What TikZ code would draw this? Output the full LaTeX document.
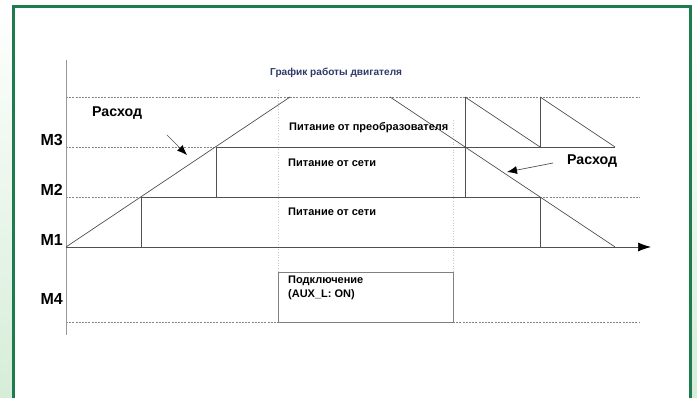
\documentclass[tikz,border=0pt]{standalone}
\usepackage{fontspec}
\setmainfont{Liberation Sans}
\usepackage{xcolor}
\usetikzlibrary{arrows.meta}

\definecolor{framegreen}{HTML}{1E7B4E}
\definecolor{paleg}{HTML}{D6EDD8}
\definecolor{titleblue}{HTML}{2B3A67}
\definecolor{linegray}{HTML}{505050}

\tikzset{
  grid/.style={draw=linegray!70, dashed, dash pattern=on 2pt off 1.2pt, line width=0.6pt},
  trace/.style={draw=linegray, line width=0.7pt},
  guide/.style={draw=gray!45, dotted, line width=0.7pt},
  mlabel/.style={font=\bfseries\fontsize{16}{16}\selectfont, anchor=east, inner sep=0pt},
  txt/.style={font=\bfseries\fontsize{11}{14}\selectfont, anchor=west, inner sep=0pt, align=left},
  flowtxt/.style={font=\bfseries\fontsize{14.2}{14}\selectfont, anchor=west, inner sep=0pt},
  pointer/.style={trace, -{Latex[length=10pt,width=8pt,fill=black,color=black]}}
}

\begin{document}
\begin{tikzpicture}[x=1pt,y=-1pt]
            \useasboundingbox (0,0) rectangle (697,398);
            % frame and side strips
            \shade[top color=white, bottom color=paleg] (0,0) rectangle (12,398);
            \shade[top color=white, bottom color=paleg] (692,0) rectangle (697,398);
            \draw[framegreen, line width=3pt] (13.5,420) -- (13.5,6.5) -- (690.5,6.5) -- (690.5,420);

            % levels
            \coordinate (O) at (66,247);
            \coordinate (Ytop) at (66,60);
            \coordinate (Ybot) at (66,335);
            \coordinate (Xend) at (651,247);

            \coordinate (r1) at (141,197);
            \coordinate (r2) at (216,147);
            \coordinate (r3) at (290,97);
            \coordinate (d0) at (390,97);
            \coordinate (d1) at (465,147);
            \coordinate (d2) at (540,197);
            \coordinate (d3) at (615,247);
            \coordinate (s1) at (465,97);
            \coordinate (s2) at (540,97);
            \coordinate (s3) at (540,147);
            \coordinate (s4) at (615,147);

            % dashed level lines
            \draw[grid] (66,97) -- (640,97);
            \draw[grid] (66,147) -- (r2);
            \draw[grid] (66,197) -- (r1);
            \draw[grid] (d2) -- (640,197);
            \draw[grid] (66,322) -- (278,322);
            \draw[grid] (453,322) -- (640,322);

            % guides
            \draw[guide] (278,90) -- (278,272);
            \draw[guide] (453,120) -- (453,272);

            % axes
            \draw[draw=gray!80, line width=0.8pt] (Ytop) -- (Ybot);
            \draw[trace, -{Latex[length=13pt,width=9pt,fill=black,color=black]}] (O) -- (Xend);

            % solid levels
            \draw[trace] (r2) -- (s4);
            \draw[trace] (r1) -- (d2);

            % ramps
            \draw[trace] (O) -- (r3);
            \draw[trace] (d0) -- (d3);
            \draw[trace] (s1) -- (s3);
            \draw[trace] (s2) -- (s4);

            % switching edges
            \draw[trace] (r1) -- (141,247);
            \draw[trace] (r2) -- (216,197);
            \draw[trace] (s1) -- (465,197);
            \draw[trace] (s2) -- (s3);
            \draw[trace] (d2) -- (540,247);

            % AUX box
            \node[draw=gray, line width=0.7pt, minimum width=175pt, minimum height=50pt, inner sep=0pt, anchor=north west] (aux) at (278,272) {};

            % labels
            \node[mlabel] (m3) at (63,140) {M3};
            \node[mlabel] (m2) at (63,190) {M2};
            \node[mlabel] (m1) at (63,240) {M1};
            \node[mlabel] (m4) at (63,299) {M4};

            \node[txt, text=titleblue, font=\bfseries\fontsize{10.1}{12}\selectfont] (title) at (270,73) {График работы двигателя};
            \node[txt] (conv) at (289,128) {Питание от преобразователя};
            \node[txt] (net1) at (288,163) {Питание от сети};
            \node[txt] (net2) at (288,212) {Питание от сети};
            \node[txt, anchor=north west] (auxtxt) at (288,276) {Подключение\\(AUX\_L: ON)};

            \node[flowtxt] (flowA) at (92,113) {Расход};
            \node[flowtxt] (flowB) at (567,161) {Расход};
            \coordinate (fa1) at (167,135);
            \coordinate (fa2) at (187,155);
            \coordinate (fb1) at (553,163);
            \coordinate (fb2) at (507,172);
            \draw[pointer] (fa1) -- (fa2);
            \draw[pointer] (fb1) -- (fb2);
        \end{tikzpicture}
\end{document}
